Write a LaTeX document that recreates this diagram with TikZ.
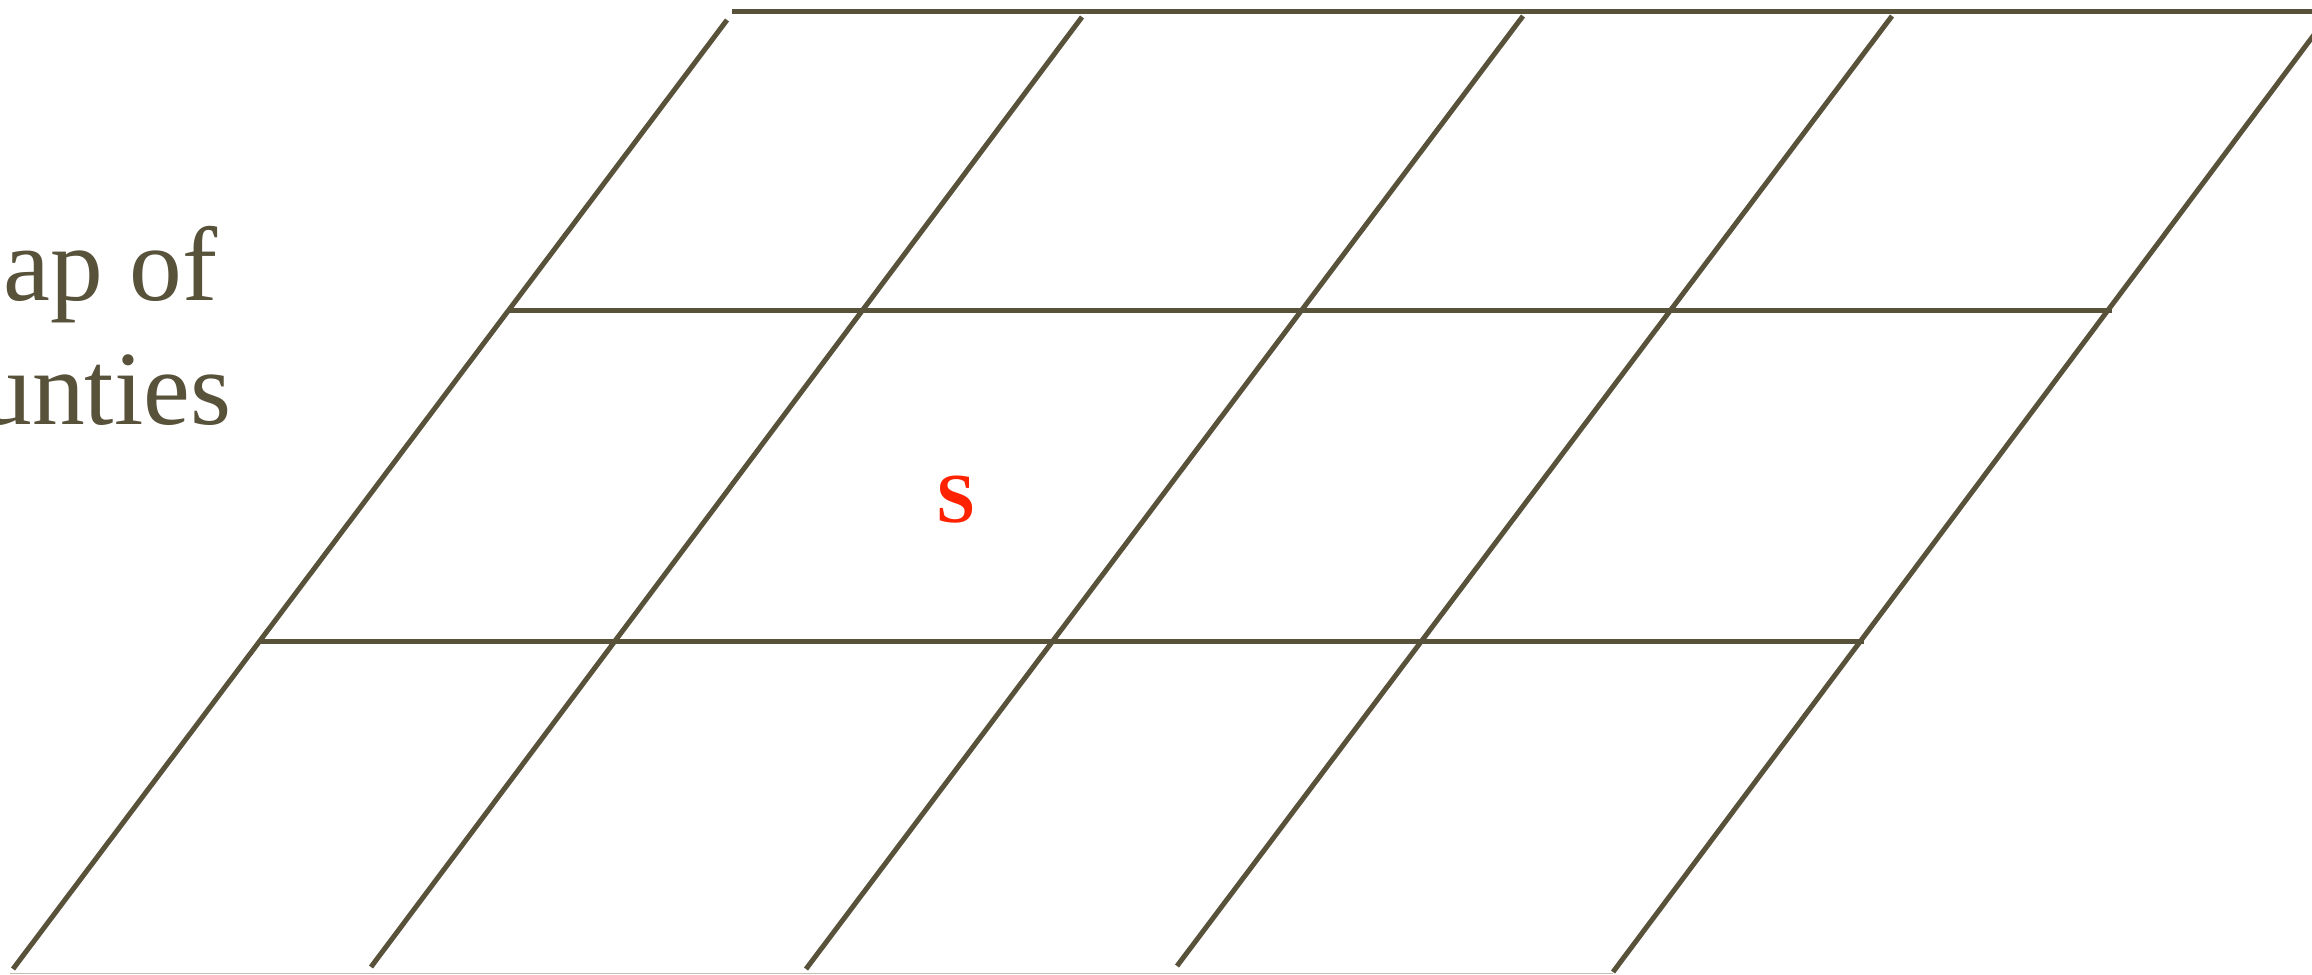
\documentclass[tikz,border=0pt]{standalone}
\usepackage{fontspec}
\setmainfont{Liberation Serif}
\begin{document}
\begin{tikzpicture}[x=0.1mm,y=-0.1mm]
\definecolor{gridcol}{RGB}{88,82,58}
\definecolor{basecol}{RGB}{192,192,180}
\definecolor{scol}{RGB}{255,34,0}
\tikzset{
  gridline/.style={draw=gridcol,line width=0.5mm},
  baserule/.style={draw=basecol,line width=0.15mm},
  titletext/.style={text=gridcol,font=\fontsize{30}{36}\selectfont,inner sep=0pt},
  letter/.style={text=scol,font=\fontsize{20}{24}\selectfont\bfseries,inner sep=0pt}
}
\useasboundingbox (0,0) rectangle (2312,975);
\clip (0,0) rectangle (2312,975);
% diagonal lines: bottom and top ends
\coordinate (b1) at (13,969);   \coordinate (u1) at (727,20);
\coordinate (b2) at (371,967);  \coordinate (u2) at (1082,17);
\coordinate (b3) at (806,969);  \coordinate (u3) at (1523,16);
\coordinate (b4) at (1177,966); \coordinate (u4) at (1892,16);
\coordinate (b5) at (1613,972); \coordinate (u5) at (2340,0);
% horizontal lines
\coordinate (h0a) at (732,12);  \coordinate (h0b) at (2320,12);
\coordinate (h1a) at (508,311); \coordinate (h1b) at (2112,311);
\coordinate (h2a) at (258,641); \coordinate (h2b) at (1864,641);
\coordinate (g1) at (10,973.5); \coordinate (g2) at (1613,973.5);

\draw[baserule] (g1) -- (g2);
\draw[gridline] (b1) -- (u1);
\draw[gridline] (b2) -- (u2);
\draw[gridline] (b3) -- (u3);
\draw[gridline] (b4) -- (u4);
\draw[gridline] (b5) -- (u5);
\draw[gridline] (h0a) -- (h0b);
\draw[gridline] (h1a) -- (h1b);
\draw[gridline] (h2a) -- (h2b);

\node[titletext,anchor=base east] (title1) at (218,301) {Map of};
\node[titletext,anchor=base east] (title2) at (232,424) {counties};
\node[letter] (s) at (956,500) {S};
\end{tikzpicture}
\end{document}
